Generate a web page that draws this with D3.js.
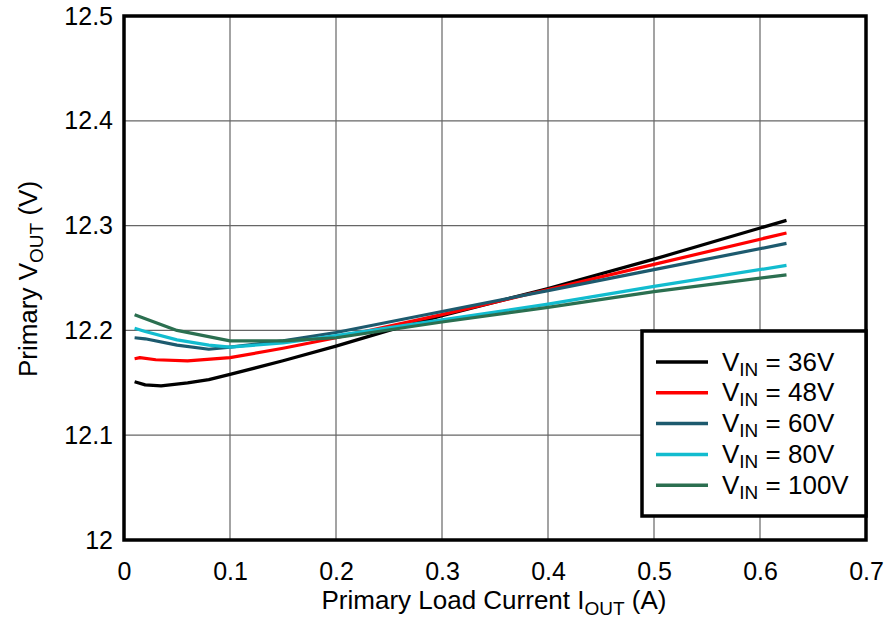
<!DOCTYPE html>
<html>
<head>
<meta charset="utf-8">
<title>Primary VOUT vs Primary Load Current</title>
<script src="https://d3js.org/d3.v7.min.js"></script>
<style>
  body { margin: 0; background: #fff; }
  text { font-family: "Liberation Sans", Arial, sans-serif; fill: #000; }
</style>
</head>
<body>
<div id="chart"></div>
<script>
// load current (A) for every point
var iout36  = [0.010, 0.020, 0.035, 0.060, 0.080, 0.100, 0.150, 0.200, 0.250, 0.300, 0.400, 0.500, 0.625];
var vout36  = [12.151, 12.148, 12.147, 12.150, 12.153, 12.158, 12.171, 12.185, 12.200, 12.214, 12.240, 12.268, 12.305];

var iout48  = [0.010, 0.015, 0.030, 0.060, 0.100, 0.150, 0.200, 0.300, 0.400, 0.500, 0.625];
var vout48  = [12.173, 12.174, 12.172, 12.171, 12.174, 12.183, 12.193, 12.215, 12.239, 12.263, 12.293];

var iout60  = [0.010, 0.020, 0.050, 0.080, 0.100, 0.150, 0.200, 0.300, 0.400, 0.500, 0.625];
var vout60  = [12.193, 12.192, 12.186, 12.182, 12.184, 12.190, 12.198, 12.218, 12.238, 12.258, 12.283];

var iout80  = [0.010, 0.020, 0.050, 0.080, 0.100, 0.150, 0.200, 0.300, 0.400, 0.500, 0.625];
var vout80  = [12.202, 12.199, 12.191, 12.186, 12.184, 12.188, 12.195, 12.210, 12.225, 12.242, 12.262];

var iout100 = [0.010, 0.050, 0.100, 0.150, 0.200, 0.300, 0.400, 0.500, 0.625];
var vout100 = [12.215, 12.200, 12.190, 12.190, 12.193, 12.208, 12.222, 12.237, 12.253];

var seriesNames = ["36V", "48V", "60V", "80V", "100V"];
var colors = ["#000000", "#ff0000", "#1d5a6e", "#12bccf", "#2b6f50"];

var xTicks = [0, 0.1, 0.2, 0.3, 0.4, 0.5, 0.6, 0.7];
var yTicks = [12, 12.1, 12.2, 12.3, 12.4, 12.5];

var series = [
    {name: seriesNames[0], x: iout36,  y: vout36},
    {name: seriesNames[1], x: iout48,  y: vout48},
    {name: seriesNames[2], x: iout60,  y: vout60},
    {name: seriesNames[3], x: iout80,  y: vout80},
    {name: seriesNames[4], x: iout100, y: vout100}
];

var W = 889, H = 622;
var margin = {top: 16, right: 23, bottom: 82, left: 124};
var width = W - margin.left - margin.right,
    height = H - margin.top - margin.bottom;

var svg = d3.select("#chart").append("svg")
    .attr("width", W)
    .attr("height", H);

var g = svg.append("g")
    .attr("transform", "translate(" + margin.left + "," + margin.top + ")");

var x = d3.scaleLinear().domain([0, 0.7]).range([0, width]);
var y = d3.scaleLinear().domain([12, 12.5]).range([height, 0]);

// grid
g.append("g")
    .selectAll("line")
    .data(xTicks)
    .join("line")
    .attr("x1", d => x(d)).attr("x2", d => x(d))
    .attr("y1", 0).attr("y2", height)
    .attr("stroke", "#666")
    .attr("stroke-width", 1.2);

g.append("g")
    .selectAll("line")
    .data(yTicks)
    .join("line")
    .attr("x1", 0).attr("x2", width)
    .attr("y1", d => y(d)).attr("y2", d => y(d))
    .attr("stroke", "#666")
    .attr("stroke-width", 1.2);

// axes (labels only, the frame is drawn below)
var xAxis = g.append("g")
    .attr("transform", "translate(0," + height + ")")
    .call(d3.axisBottom(x).tickValues(xTicks).tickSize(0).tickPadding(25).tickFormat(d3.format("")));
var yAxis = g.append("g")
    .call(d3.axisLeft(y).tickValues(yTicks).tickSize(0).tickPadding(11).tickFormat(d3.format("")));

[xAxis, yAxis].forEach(function(a) {
    a.select(".domain").remove();
    a.selectAll("text")
        .style("font-family", "'Liberation Sans', Arial, sans-serif")
        .style("font-size", "25px")
        .attr("fill", "#000");
});
xAxis.selectAll("text").attr("dy", "0.6em");

// lines
var line = d3.line()
    .x(d => x(d[0]))
    .y(d => y(d[1]));

g.append("g")
    .selectAll("path")
    .data(series)
    .join("path")
    .attr("d", d => line(d.x.map((v, i) => [v, d.y[i]])))
    .attr("fill", "none")
    .attr("stroke", (d, i) => colors[i])
    .attr("stroke-width", 3.2)
    .attr("stroke-linejoin", "round");

// frame
g.append("rect")
    .attr("x", 0).attr("y", 0)
    .attr("width", width).attr("height", height)
    .attr("fill", "none")
    .attr("stroke", "#000")
    .attr("stroke-width", 3.5);

// legend
var lx = 642, ly = 331, lw = 866 - 642, lh = 516 - 331;
var legend = svg.append("g");
legend.append("rect")
    .attr("x", lx).attr("y", ly)
    .attr("width", lw).attr("height", lh)
    .attr("fill", "#fff")
    .attr("stroke", "#000")
    .attr("stroke-width", 3.5);

var item = legend.selectAll("g.item")
    .data(series)
    .join("g")
    .attr("class", "item")
    .attr("transform", (d, i) => "translate(0," + (362 + i * 30.8) + ")");

item.append("line")
    .attr("x1", 656).attr("x2", 708)
    .attr("y1", 0).attr("y2", 0)
    .attr("stroke", (d, i) => colors[i])
    .attr("stroke-width", 3.5);

var lt = item.append("text")
    .attr("x", 722)
    .attr("y", 8.5)
    .style("font-size", "26px");
lt.append("tspan").text("V");
lt.append("tspan").text("IN").style("font-size", "19px").attr("dy", 5);
lt.append("tspan").text(d => " = " + d.name).attr("dy", -5);

// axis titles
var xt = svg.append("text")
    .attr("x", 494)
    .attr("y", 609)
    .attr("text-anchor", "middle")
    .style("font-size", "26px");
xt.append("tspan").text("Primary Load Current I");
xt.append("tspan").text("OUT").style("font-size", "19px").attr("dy", 6);
xt.append("tspan").text(" (A)").attr("dy", -6);

var yt = svg.append("text")
    .attr("transform", "translate(37," + 279 + ") rotate(-90)")
    .attr("text-anchor", "middle")
    .style("font-size", "26px");
yt.append("tspan").text("Primary V");
yt.append("tspan").text("OUT").style("font-size", "19px").attr("dy", 6);
yt.append("tspan").text(" (V)").attr("dy", -6);
</script>
</body>
</html>
